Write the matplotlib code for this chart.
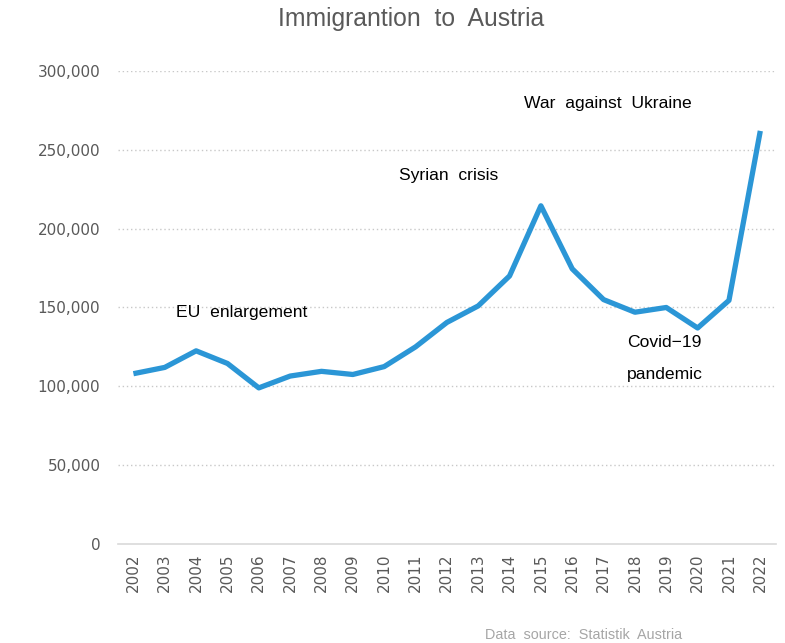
import matplotlib
matplotlib.use("Agg")
import matplotlib.pyplot as plt
from matplotlib.ticker import FuncFormatter

years = [str(y) for y in range(2002, 2023)]
immigration = [108000, 112000, 122500, 114500, 99000, 106500, 109500, 107500,
               112500, 125000, 140500, 151000, 170000, 214500, 174500, 155000,
               147000, 150000, 137000, 154500, 262000]
yticks = [0, 50000, 100000, 150000, 200000, 250000, 300000]
annotations = [("EU  enlargement", 3.45, 147000, "center"),
               ("Syrian  crisis", 10.05, 234000, "center"),
               ("War  against  Ukraine", 15.15, 279500, "center"),
               ("Covid\u221219", 15.75, 127500, "left"),
               ("pandemic", 15.75, 107200, "left")]

fig = plt.figure(figsize=(7.85, 6.43), dpi=100)
ax = fig.add_axes([0.150, 0.154, 0.8385, 0.7356])

x = list(range(len(years)))
ax.plot(x, immigration, color="#2b96d6", linewidth=3.8, solid_capstyle="butt", zorder=3)

ax.set_xlim(-0.5, len(years) - 0.5)
ax.set_ylim(0, 300000)
ax.set_yticks(yticks)
ax.yaxis.set_major_formatter(FuncFormatter(lambda v, p: f"{int(v):,}"))
ax.set_xticks(x)
ax.set_xticklabels(years, rotation=90)

for s in ["top", "right", "left"]:
    ax.spines[s].set_visible(False)
ax.spines["bottom"].set_color("#d9d9d9")
ax.spines["bottom"].set_linewidth(1.2)
ax.tick_params(axis="both", length=0, colors="#595959", labelsize=11)
ax.tick_params(axis="y", pad=12.5)
ax.tick_params(axis="x", pad=7)
for lbl in ax.get_xticklabels() + ax.get_yticklabels():
    lbl.set_family("DejaVu Sans")
    lbl.set_color("#595959")

ax.yaxis.grid(True, linestyle=(0, (1, 2)), color="#c8c8c8", linewidth=1.0)
ax.set_axisbelow(True)
ax.grid(False, axis="x")
for g in ax.get_ygridlines()[:1]:
    g.set_visible(False)

for txt, xp, yp, ha in annotations:
    ax.text(xp, yp, txt, ha=ha, va="center", fontsize=12.6,
            family="Liberation Sans", color="black")

fig.text(0.524, 0.971, "Immigrantion  to  Austria", ha="center", va="center",
         fontsize=17.8, family="Liberation Sans", color="#595959")
fig.text(0.744, 0.013, "Data  source:  Statistik  Austria", ha="center", va="center",
         fontsize=10.4, family="Liberation Sans", color="#a6a6a6")

fig.savefig("out.png", dpi=100)
